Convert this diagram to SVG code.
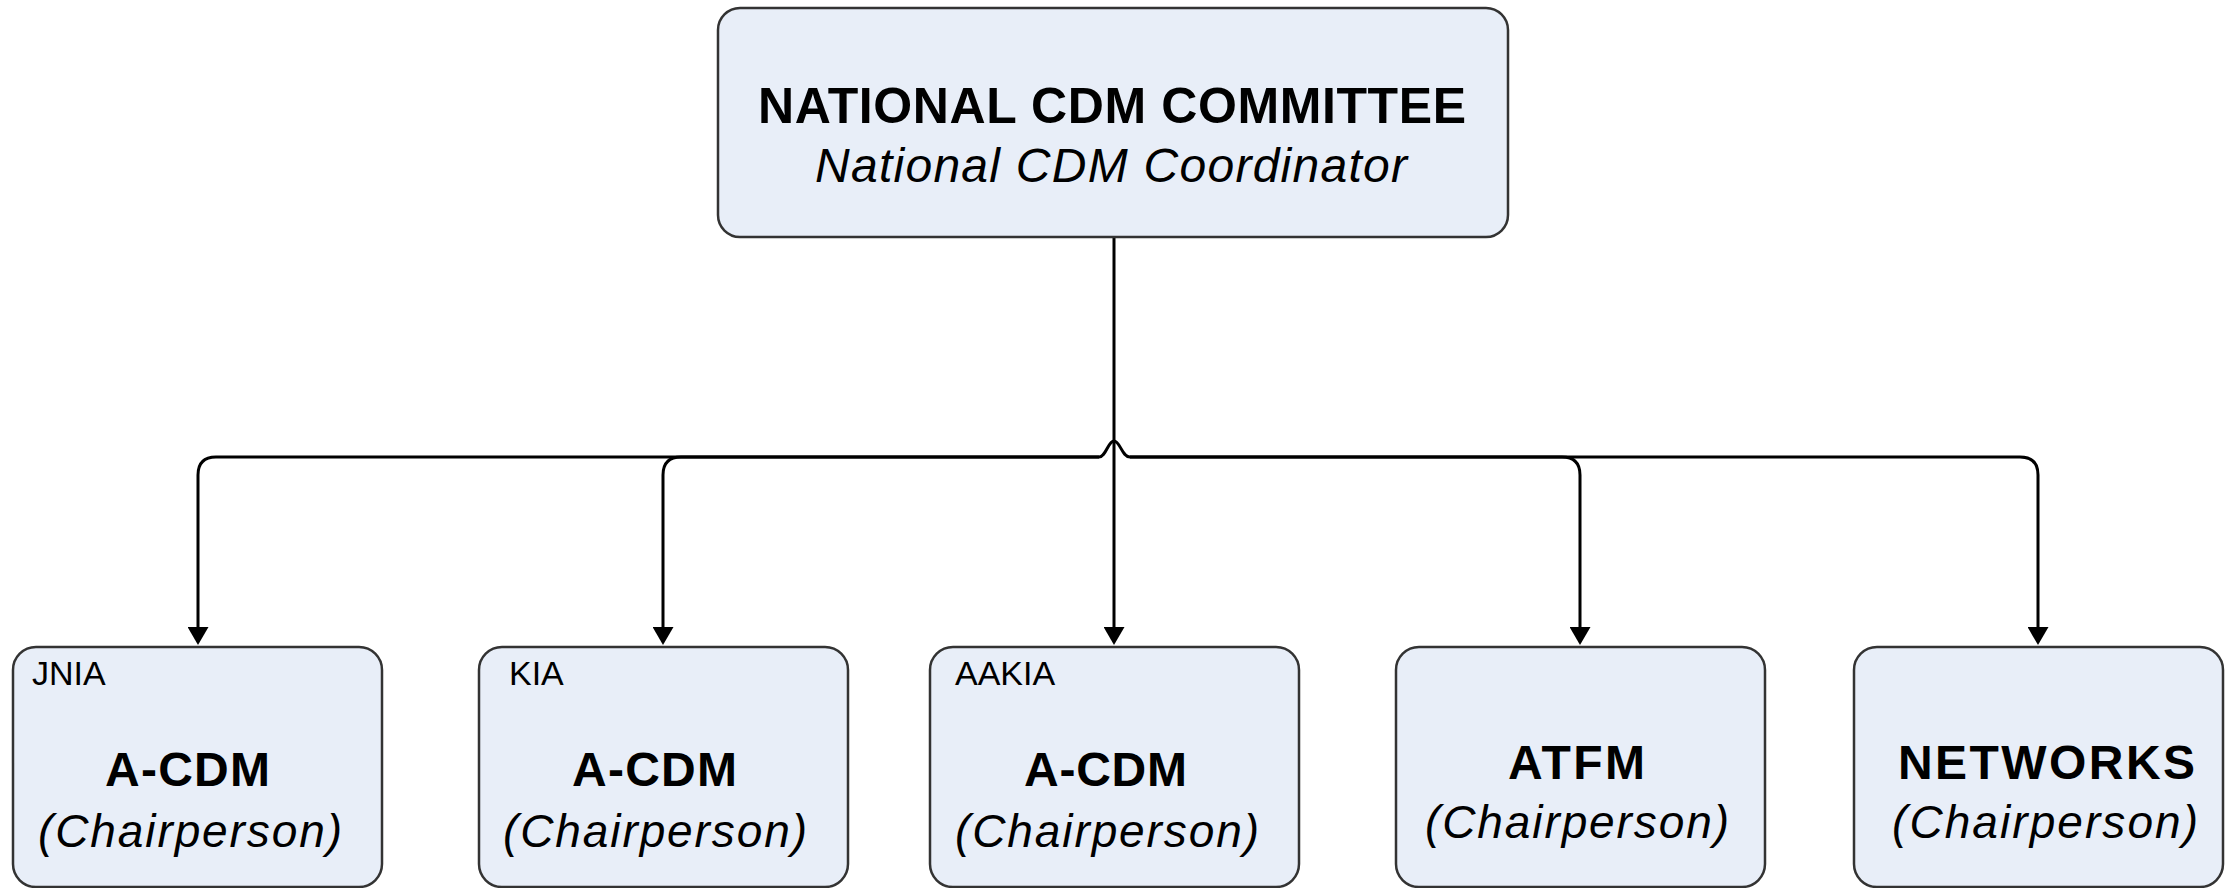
<svg xmlns="http://www.w3.org/2000/svg" width="2231" height="888" viewBox="0 0 2231 888">
<style>
.box{fill:#E8EEF8;stroke:#333333;stroke-width:2.5}
.ln{fill:none;stroke:#000000;stroke-width:3}
.t{font-family:"Liberation Sans",Arial,sans-serif;fill:#000000}
.b{font-weight:bold;font-size:48px}
.i{font-style:italic;font-size:46px}
.s{font-size:34px}
</style>
<defs>
<marker id="arr" viewBox="0 0 18 21" refX="0" refY="10.5" markerWidth="18" markerHeight="21" markerUnits="userSpaceOnUse" orient="auto">
<path d="M0,0 L18,10.5 L0,21 z" fill="#000000"/>
</marker>
</defs>
<rect width="2231" height="888" fill="#ffffff"/>
<g id="connectors">
<path class="ln" d="M1114,237 V627" marker-end="url(#arr)"/>
<path class="ln" d="M1099,457 C1106,457 1108,441 1114,441 C1120,441 1122,457 1130,457"/>
<path class="ln" d="M1099,457 H216 Q198,457 198,475 V627" marker-end="url(#arr)"/>
<path class="ln" d="M1099,457 H681 Q663,457 663,475 V627" marker-end="url(#arr)"/>
<path class="ln" d="M1130,457 H1562 Q1580,457 1580,475 V627" marker-end="url(#arr)"/>
<path class="ln" d="M1130,457 H2020 Q2038,457 2038,475 V627" marker-end="url(#arr)"/>
</g>
<g id="national">
<rect class="box" x="718" y="8" width="790" height="229" rx="22"/>
<text class="t" x="758" y="123" font-size="50" font-weight="bold" textLength="708" lengthAdjust="spacing">NATIONAL CDM COMMITTEE</text>
<text class="t" x="815" y="182" font-size="48" font-style="italic" textLength="592" lengthAdjust="spacing">National CDM Coordinator</text>
</g>
<g id="jnia">
<rect class="box" x="13" y="647" width="369" height="240" rx="23"/>
<text class="t s" x="32" y="685">JNIA</text>
<text class="t b" x="105" y="786" textLength="165" lengthAdjust="spacing">A-CDM</text>
<text class="t i" x="38" y="847" textLength="304" lengthAdjust="spacing">(Chairperson)</text>
</g>
<g id="kia">
<rect class="box" x="479" y="647" width="369" height="240" rx="23"/>
<text class="t s" x="509" y="685">KIA</text>
<text class="t b" x="572" y="786" textLength="165" lengthAdjust="spacing">A-CDM</text>
<text class="t i" x="503" y="847" textLength="304" lengthAdjust="spacing">(Chairperson)</text>
</g>
<g id="aakia">
<rect class="box" x="930" y="647" width="369" height="240" rx="23"/>
<text class="t s" x="955" y="685">AAKIA</text>
<text class="t b" x="1024" y="786" textLength="163" lengthAdjust="spacing">A-CDM</text>
<text class="t i" x="955" y="847" textLength="304" lengthAdjust="spacing">(Chairperson)</text>
</g>
<g id="atfm">
<rect class="box" x="1396" y="647" width="369" height="240" rx="23"/>
<text class="t b" x="1508" y="779" textLength="137" lengthAdjust="spacing">ATFM</text>
<text class="t i" x="1425" y="838" textLength="304" lengthAdjust="spacing">(Chairperson)</text>
</g>
<g id="networks">
<rect class="box" x="1854" y="647" width="369" height="240" rx="23"/>
<text class="t b" x="1898" y="779" textLength="297" lengthAdjust="spacing">NETWORKS</text>
<text class="t i" x="1892" y="838" textLength="306" lengthAdjust="spacing">(Chairperson)</text>
</g>
</svg>
